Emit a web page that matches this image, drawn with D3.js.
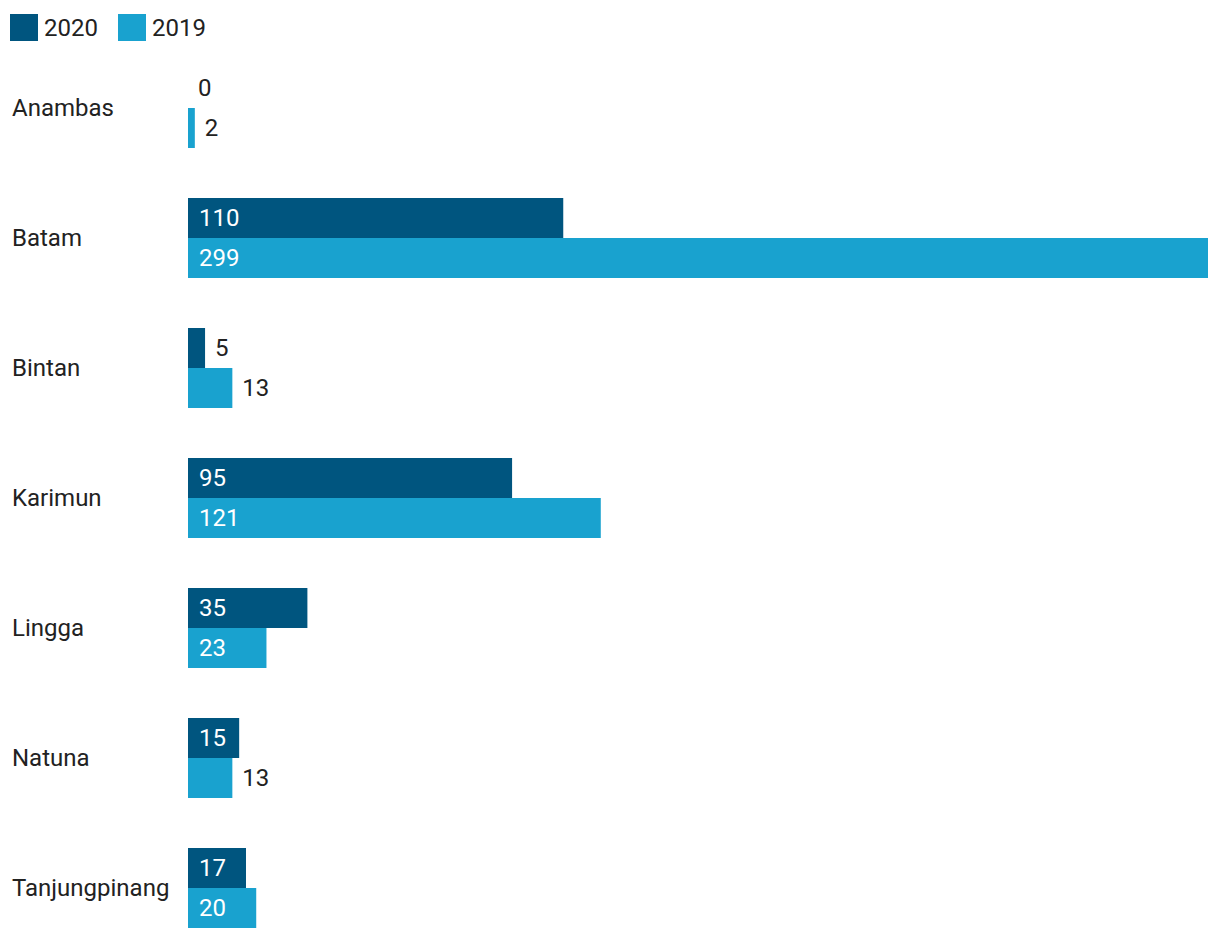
<!DOCTYPE html>
<html><head><meta charset="utf-8">
<script src="https://cdn.jsdelivr.net/npm/d3@7"></script>
<style>body{margin:0;background:#fff}text{font-family:Roboto,sans-serif}</style>
</head><body><svg id="c" width="1220" height="940"></svg>
<script>
const categories = ["Anambas","Batam","Bintan","Karimun","Lingga","Natuna","Tanjungpinang"];
const series = ["2020","2019"];
const values2020 = [0,110,5,95,35,15,17];
const values2019 = [2,299,13,121,23,13,20];
const colors = ["#00557f","#19a2cf"];
const FS = 24;

const svg = d3.select("#c");
const x = d3.scaleLinear().domain([0,299]).range([188,1208]);
const y = d3.scaleBand().domain(categories).range([48,958]).paddingInner(0).paddingOuter(0);
const inner = d3.scaleBand().domain(series).range([20,100]);

// legend
const lg = svg.append("g");
series.forEach((s,i)=>{
  const ox = 10 + i*108;
  lg.append("rect").attr("x",ox).attr("y",14).attr("width",28).attr("height",27).attr("fill",colors[i]);
  lg.append("text").attr("x",ox+34).attr("y",27.5).attr("dy","0.35em").attr("font-size",FS).attr("fill","#222").text(s);
});

const data = [values2020, values2019];
categories.forEach((c,ci)=>{
  const g = svg.append("g").attr("transform",`translate(0,${y(c)})`);
  g.append("text").attr("x",12).attr("y",60).attr("dy","0.35em").attr("font-size",FS).attr("fill","#222").text(c);
  series.forEach((s,si)=>{
    const v = data[si][ci];
    const w = x(v)-x(0);
    const yy = inner(s);
    if (w>0) g.append("rect").attr("x",x(0)).attr("y",yy).attr("width",Math.max(w,0)).attr("height",inner.bandwidth()).attr("fill",colors[si]);
    const t = g.append("text").attr("y",yy+inner.bandwidth()/2).attr("dy","0.35em").attr("font-size",FS).text(v);
    const tw = t.node().getComputedTextLength();
    if (w >= tw+22) t.attr("x",x(0)+11).attr("fill","#fff");
    else t.attr("x",x(v)+10).attr("fill","#222");
  });
});
</script></body></html>
